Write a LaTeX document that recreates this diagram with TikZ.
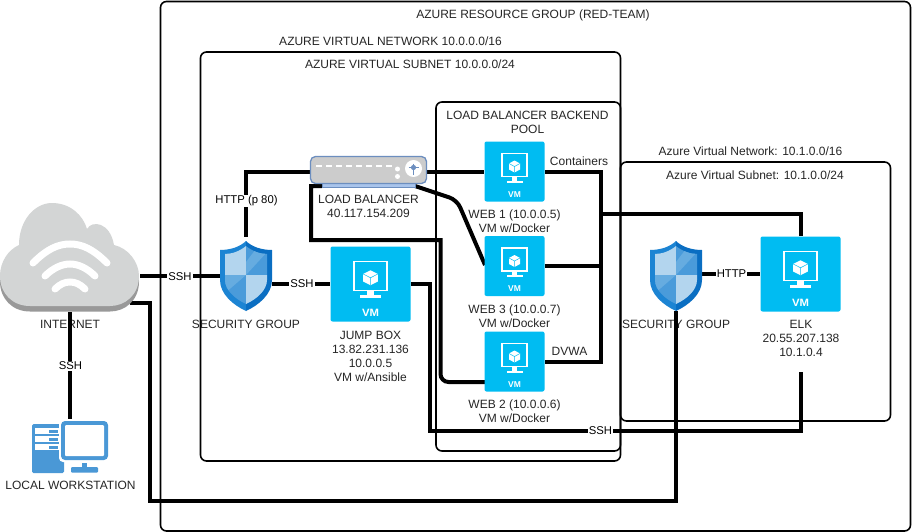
\documentclass[tikz,border=0pt]{standalone}
\usepackage{fontspec}
\setmainfont{Liberation Sans}
\usetikzlibrary{calc}
\definecolor{vmblue}{HTML}{00BCF2}
\definecolor{pcblue}{HTML}{4A98D6}
\definecolor{lbedge}{HTML}{6C8EBF}
\definecolor{lbfoot}{HTML}{A9C4EB}
\definecolor{lbbody}{HTML}{CCCCCC}
\definecolor{cloudtop}{HTML}{D3D5D5}
\definecolor{cloudbase}{HTML}{999999}
\definecolor{shieldlight}{HTML}{B3D5EE}
\definecolor{shieldmid}{HTML}{66ACE0}
\definecolor{shielddark}{HTML}{4A9BDA}
\definecolor{shieldleft}{HTML}{1C84D3}
\definecolor{shieldright}{HTML}{0A6EC2}
\tikzset{
    zonebox/.style={
        draw,
        line width=1.6pt,
        rounded corners=6pt
    },
    caption/.style={
        font=\fontsize{12}{14}\selectfont,
        align=center,
        inner sep=0pt,
        text=black!85
    },
    linktext/.style={
        font=\fontsize{11.3}{14}\selectfont,
        fill=white,
        inner sep=1pt
    },
    link/.style={
        line width=4pt,
        black
    },
    vmbox/.style={
        inner sep=0pt,
        minimum width=#1pt,
        minimum height=#1pt
    },
    cloud path/.style={
        insert path={
            (30,306) .. controls (12,306) and (0,293) .. (0,276)
            .. controls (0,262) and (8,250) .. (19,245)
            .. controls (19,220) and (35,203) .. (52,203)
            .. controls (70,203) and (83,215) .. (87,229)
            .. controls (92,220) and (110,222) .. (114,245)
            .. controls (128,248) and (139,262) .. (139,276)
            .. controls (139,295) and (125,306) .. (110,306) -- cycle
        }
    },
    vm icon/.pic={
        \fill[vmblue, rounded corners=2pt] (-30,-30) rectangle (30,30);
        \draw[white, line width=1.5pt] (-12.5,-18) rectangle (12.5,5);
        \fill[white] (-2.5,5) rectangle (2.5,9);
        \fill[white] (-8,9) rectangle (8,11);
        \fill[white] (0,-11) -- (5.5,-8) -- (5.5,-2) -- (0,1) -- (-5.5,-2) -- (-5.5,-8) -- cycle;
        \draw[vmblue, line width=0.5pt] (-5.5,-8) -- (0,-5) -- (5.5,-8) (0,-5) -- (0,1);
        \node[transform shape, text=white, inner sep=0pt, font=\fontsize{8.5}{10}\selectfont\bfseries] (-text) at (0,23) {VM};
    },
    shield icon/.pic={
        \fill[shieldleft] (0,-35) .. controls (-6,-29) and (-16,-26) .. (-26,-26)
            -- (-26,4) .. controls (-26,18) and (-13,29) .. (0,35) -- cycle;
        \fill[shieldright] (0,-35) .. controls (6,-29) and (16,-26) .. (26,-26)
            -- (26,4) .. controls (26,18) and (13,29) .. (0,35) -- cycle;
        \begin{scope}
            \clip (0,-30) .. controls (-6,-25) and (-14,-22) .. (-21,-22)
                -- (-21,4) .. controls (-21,14) and (-11,23) .. (0,28)
                .. controls (11,23) and (21,14) .. (21,4) -- (21,-22)
                .. controls (14,-22) and (6,-25) .. (0,-30) -- cycle;
            \fill[shieldlight] (-22,-31) rectangle (0,-1);
            \fill[shielddark] (0,-31) rectangle (22,-1);
            \fill[shieldmid] (0,-1) -- (0,-14) -- (13,-31) -- (22,-31) -- (22,-25) -- cycle;
            \fill[shielddark] (-22,-1) rectangle (0,29);
            \fill[shieldmid] (-22,-1) -- (0,-1) -- (-22,18) -- cycle;
            \fill[shieldlight] (0,-1) rectangle (22,29);
        \end{scope}
    },
    balancer icon/.pic={
        \fill[lbfoot, draw=lbedge, line width=1pt] (-46.5,10) rectangle (46.5,15.5);
        \fill[lbbody, draw=lbedge, line width=1.3pt, rounded corners=5pt] (-58,-15) rectangle (58,12);
        \foreach \k in {0,...,7} {
            \fill[white] (-53+10*\k,-7) rectangle (-47+10*\k,-4.5);
        }
        \fill[white] (29,-2.5) circle (2.5);
        \fill[white] (29,5) circle (2.5);
        \fill[white] (45,-3) circle (8.5);
        \draw[lbedge, line width=1.6pt] (45,-8) -- (45,3) (40,-4) -- (50,-4);
        \fill[lbedge] (45,-4) circle (2.6);
    },
    workstation icon/.pic={
        \fill[pcblue, rounded corners=1.5pt] (-38,-23) rectangle (-6,26);
        \foreach \y in {-19,-11,-3} {
            \fill[white] (-35,\y) rectangle (-11,\y+6);
            \fill[pcblue] (-21,\y+1.5) rectangle (-12,\y+4.5);
        }
        \fill[white, rounded corners=4pt] (-11,-28) rectangle (40,15);
        \fill[pcblue, rounded corners=4pt] (-9,-26) rectangle (38,13);
        \fill[white, rounded corners=1pt] (-5,-22) rectangle (34,9);
        \fill[pcblue] (12,16) rectangle (17,20);
        \fill[pcblue, rounded corners=1pt] (1,20) rectangle (28,25.5);
    },
    internet icon/.pic={
        \begin{scope}[shift={(-70,-257.5)}]
            \fill[cloudbase, shift={(0,5.5)}, cloud path];
            \fill[cloudtop, cloud path];
            \draw[white, line width=7pt, line cap=round] (33,263) .. controls (47,249) and (58,244) .. (70,244) .. controls (82,244) and (93,249) .. (107,263);
            \draw[white, line width=7pt, line cap=round] (45,276) .. controls (53,268) and (62,264) .. (70,264) .. controls (78,264) and (87,268) .. (95,276);
            \draw[white, line width=7pt, line cap=round] (55,289) .. controls (60,284) and (65,282) .. (70,282) .. controls (75,282) and (80,284) .. (85,289);
        \end{scope}
    }
}
\begin{document}
\begin{tikzpicture}[x=1pt, y=-1pt]
    \useasboundingbox (0,0) rectangle (912,532);
    \fill[white] (0,0) rectangle (912,532);

    \draw[zonebox] (160.5,1.5) rectangle (910.5,531);
    \draw[zonebox] (200.5,52) rectangle (620.5,461);
    \draw[zonebox] (436,102) rectangle (620.5,451);
    \draw[zonebox] (620.5,162) rectangle (890.5,421);

    \node[caption] (groupname) at (533,15) {AZURE RESOURCE GROUP (RED-TEAM)};
    \node[caption] (vnetname) at (390.5,41.5) {AZURE VIRTUAL NETWORK 10.0.0.0/16};
    \node[caption] (subnetname) at (410,64.5) {AZURE VIRTUAL SUBNET 10.0.0.0/24};
    \node[caption] (poolname) at (527.5,122.5) {LOAD BALANCER BACKEND\\POOL};
    \node[caption] (elkvnetname) at (750.5,151) {Azure Virtual Network: 10.1.0.0/16};
    \node[caption] (elksubnetname) at (755,175) {Azure Virtual Subnet: 10.1.0.0/24};
    \node[caption] (internetname) at (70,324.5) {INTERNET};
    \node[caption] (deskname) at (70.5,485.5) {LOCAL WORKSTATION};
    \node[caption] (sgonename) at (246,324.5) {SECURITY GROUP};
    \node[caption] (sgtwoname) at (676,324.5) {SECURITY GROUP};
    \node[caption] (lbname) at (368.5,206) {LOAD BALANCER\\40.117.154.209};
    \node[caption] (jumpname) at (370.5,356) {JUMP BOX\\13.82.231.136\\10.0.0.5\\VM w/Ansible};
    \node[caption] (webonename) at (514.5,221.5) {WEB 1 (10.0.0.5)\\VM w/Docker};
    \node[caption] (webthreename) at (514.5,316) {WEB 3 (10.0.0.7)\\VM w/Docker};
    \node[caption] (webtwoname) at (514.5,411) {WEB 2 (10.0.0.6)\\VM w/Docker};
    \node[caption] (elkname) at (801,338) {ELK\\20.55.207.138\\10.1.0.4};
    \node[caption] (containersname) at (579,161.5) {Containers};
    \node[caption] (dvwaname) at (569.5,351.5) {DVWA};

    \node[minimum width=140pt, minimum height=109pt, inner sep=0pt] (internet) at (70,257.5) {};
    \node[minimum width=76pt, minimum height=52pt, inner sep=0pt] (desk) at (70,447) {};
    \node[minimum width=52pt, minimum height=70pt, inner sep=0pt] (sgone) at (246,276) {};
    \node[minimum width=52pt, minimum height=70pt, inner sep=0pt] (sgtwo) at (676,276) {};
    \node[minimum width=117pt, minimum height=31pt, inner sep=0pt] (lb) at (368.5,171.5) {};
    \node[vmbox=80, minimum height=75pt] (jump) at (370.5,284) {};
    \node[vmbox=60] (webone) at (514.5,171.5) {};
    \node[vmbox=60] (webthree) at (514.5,266) {};
    \node[vmbox=60] (webtwo) at (514.5,361.5) {};
    \node[vmbox=80, minimum height=75pt] (elk) at (800.5,274) {};

    \coordinate (inetout) at (130,303);
    \coordinate (wanbus) at (150,501);
    \coordinate (sshbus) at (430,431);
    \coordinate (elkfoot) at (801,372);
    \coordinate (lbleft) at (322,186);
    \coordinate (lbright) at (415,186);
    \coordinate (loopa) at (311,240);
    \coordinate (loopb) at (440.5,382);
    \coordinate (bend) at (457,200);
    \coordinate (webtwoin) at (485,382);
    \coordinate (webthreein) at (485,265);
    \coordinate (bustop) at (601,171.5);
    \coordinate (busbot) at (601,361.5);
    \coordinate (busmid) at (601,214);

    \draw[link] (internet.south) -- (desk.north);
    \draw[link] (internet.east |- sgone.west) -- (sgone.west);
    \draw[link] (inetout) -| (wanbus) -| (sgtwo.south);
    \draw[link] (jump.west -| sgone.east) -- (jump.west);
    \draw[link] ([yshift=4pt]sgone.north) |- (lb.west);
    \draw[link] (lb.east) -- (webone.west);
    \draw[link] (lbleft) -| (loopa) -| ($(loopb)+(0,-20)$) [rounded corners=8pt] -- (loopb) -- (webtwoin);
    \draw[link, rounded corners=8pt] (lbright) -- (bend) -- (webthreein);
    \draw[link] (webone.east) -- (bustop) -- (busbot) -- (webtwo.east);
    \draw[link] (webthree.east) -- (webthree.east -| bustop);
    \draw[link] (busmid) -| (elk.north);
    \draw[link] (elk.west -| sgtwo.east) -- (elk.west);
    \draw[link] (jump.east) -| (sshbus) -| (elkfoot);

    \node[linktext] (sshdesk) at (70.5,366) {SSH};
    \node[linktext] (sshinet) at (180,277) {SSH};
    \node[linktext] (sshjump) at (302,284) {SSH};
    \node[linktext] (sshelk) at (600.5,431) {SSH};
    \node[linktext] (httplb) at (246.5,201) {HTTP (p 80)};
    \node[linktext] (httpelk) at (731.5,274) {HTTP};

    \pic (internetart) at (internet.center) {internet icon};
    \pic (deskart) at (desk.center) {workstation icon};
    \pic (sgoneart) at (sgone.center) {shield icon};
    \pic (sgtwoart) at (sgtwo.center) {shield icon};
    \pic (lbart) at (lb.center) {balancer icon};
    \pic[scale=1.3333, yscale=0.9375] (jumpart) at (jump.center) {vm icon};
    \pic (weboneart) at (webone.center) {vm icon};
    \pic (webthreeart) at (webthree.center) {vm icon};
    \pic (webtwoart) at (webtwo.center) {vm icon};
    \pic[scale=1.3333, yscale=0.9375] (elkart) at (elk.center) {vm icon};
\end{tikzpicture}
\end{document}
